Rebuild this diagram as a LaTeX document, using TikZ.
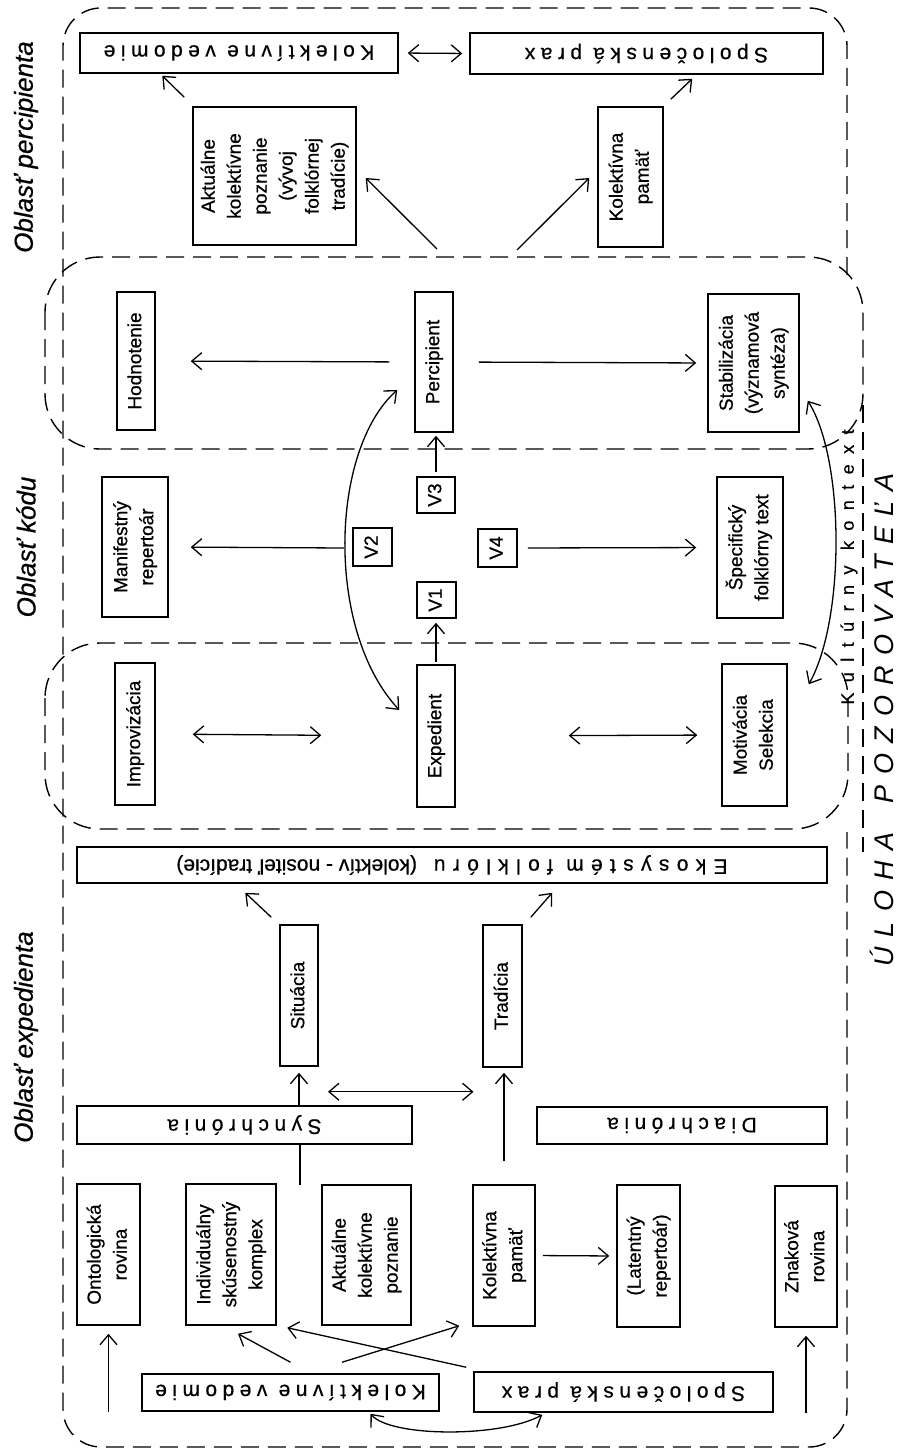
\documentclass[tikz,border=0pt]{standalone}
\usepackage{fontspec}
\setmainfont[FakeBold=0.6]{Liberation Sans}
\newfontfamily\plainfont[FakeBold=0.6]{Liberation Sans}
\newfontfamily\spacedfont[LetterSpace=26,FakeBold=0.5]{Liberation Sans}
\newfontfamily\ekofont[LetterSpace=35,FakeBold=0.5]{Liberation Sans}
\newfontfamily\kkfont[LetterSpace=58,FakeBold=0.5]{Liberation Sans}
\newfontfamily\ulohafont[LetterSpace=38]{Liberation Sans}
\usetikzlibrary{arrows.meta}
\newcommand\vtext[1]{\rotatebox{90}{\begin{tabular}{@{}c@{}}#1\end{tabular}}}
\newcommand\upside[1]{\rotatebox{180}{#1}}
\tikzset{
  box/.style={draw, fill=white, line width=1.5pt, inner sep=0pt, font=\fontsize{19}{26}\selectfont},
  hbox/.style={draw, fill=white, line width=1.5pt, inner sep=0pt, font=\fontsize{21}{26}\selectfont\spacedfont},
  arr/.style={-{Straight Barb[length=10pt,width=17pt]}, line width=1.3pt},
  arrr/.style={{Straight Barb[length=10pt,width=17pt]}-{Straight Barb[length=10pt,width=17pt]}, line width=1.3pt},
  region/.style={dash pattern=on 18pt off 9pt, line width=1.4pt},
  reglab/.style={font=\fontsize{26}{30}\selectfont\itshape, rotate=90, inner sep=0pt},
}
\begin{document}
\begin{tikzpicture}[x=1pt,y=-1pt]
\useasboundingbox (0,0) rectangle (899,1453);
% dashed regions
\draw[region, rounded corners=38pt] (847,275) -- (847,8) -- (63,8) -- (63,1447) -- (847,1447) -- (847,832);
\draw[region] (863,405) -- (863,852);
\draw[region, rounded corners=55pt] (45,257) rectangle (863,449);
\draw[region, rounded corners=55pt] (45,643) rectangle (848,829);

% top (percipient area)
\node[hbox, minimum width=318pt, minimum height=40pt] (kvT) at (239,53) {\upside{Kolektívne vedomie}};
\node[hbox, minimum width=353pt, minimum height=41pt] (spT) at (646.5,53.5) {\upside{Spoločenská prax}};
\node[box, minimum width=163pt, minimum height=138pt] (akT) at (274.5,176) {\vtext{Aktuálne\\kolektívne\\poznanie\\(vývoj\\folklórnej\\tradície)}};
\node[box, minimum width=65pt, minimum height=140pt] (kpT) at (630.5,177) {\vtext{Kolektívna\\pamäť}};

% upper inner region
\node[box, minimum width=38pt, minimum height=138pt] (hod) at (136,361) {\vtext{Hodnotenie}};
\node[box, minimum width=38pt, minimum height=140pt] (perc) at (434,362) {\vtext{Percipient}};
\node[box, minimum width=91pt, minimum height=138pt] (stab) at (753.5,363) {\vtext{Stabilizácia\\(významová\\syntéza)}};

% code area
\node[box, minimum width=66pt, minimum height=140pt] (man) at (135,547) {\vtext{Manifestný\\repertoár}};
\node[box, minimum width=39pt, minimum height=38pt] (v2) at (372.5,547) {\vtext{V2}};
\node[box, minimum width=38pt, minimum height=36pt] (v3) at (436,495) {\vtext{V3}};
\node[box, minimum width=39pt, minimum height=36pt] (v1) at (436.5,600) {\vtext{V1}};
\node[box, minimum width=39pt, minimum height=38pt] (v4) at (497.5,548) {\vtext{V4}};
\node[box, minimum width=66pt, minimum height=141pt] (spec) at (750,547.5) {\vtext{Špecifický\\folklórny text}};

% lower inner region
\node[box, minimum width=40pt, minimum height=142pt] (impr) at (135,734) {\vtext{Improvizácia}};
\node[box, minimum width=38pt, minimum height=142pt] (exp) at (436,736) {\vtext{Expedient}};
\node[box, minimum width=65pt, minimum height=142pt] (mot) at (754.5,735) {\vtext{Motivácia\\Selekcia}};

% expedient area
\node[hbox, minimum width=750pt, minimum height=36pt] (eko) at (452,865) {\upside{{\ekofont Ekosystém folklóru}\hspace{0.8em}{\plainfont(kolektív - nositeľ tradície)}}};
\node[box, minimum width=38pt, minimum height=141pt] (sit) at (299,995.5) {\vtext{Situácia}};
\node[box, minimum width=39pt, minimum height=142pt] (trad) at (502.5,996) {\vtext{Tradícia}};
\node[hbox, minimum width=335pt, minimum height=38pt] (syn) at (244.5,1125) {\upside{Synchrónia}};
\node[hbox, minimum width=290pt, minimum height=37pt] (dia) at (682,1125.5) {\upside{Diachrónia}};
\node[box, minimum width=63pt, minimum height=141pt] (ont) at (108.5,1254.5) {\vtext{Ontologická\\rovina}};
\node[box, minimum width=90pt, minimum height=141pt] (ind) at (231,1254.5) {\vtext{Individuálny\\skúsenostný\\komplex}};
\node[box, minimum width=89pt, minimum height=140pt] (akB) at (366.5,1255) {\vtext{Aktuálne\\kolektívne\\poznanie}};
\node[box, minimum width=62pt, minimum height=141pt] (kpB) at (504,1255.5) {\vtext{Kolektívna\\pamäť}};
\node[box, minimum width=63pt, minimum height=142pt] (lat) at (648.5,1256) {\vtext{(Latentný\\repertoár)}};
\node[box, minimum width=62pt, minimum height=141pt] (zn) at (806,1256.5) {\vtext{Znaková\\rovina}};
\node[hbox, minimum width=297pt, minimum height=37pt] (kvB) at (290.5,1392.5) {\upside{Kolektívne vedomie}};
\node[hbox, minimum width=299pt, minimum height=40pt] (spB) at (623.5,1392) {\upside{Spoločenská prax}};

% labels
\node[reglab] (lp) at (26,147) {Oblasť percipienta};
\node[reglab] (lk) at (26,547) {Oblasť kódu};
\node[reglab] (le) at (26,1037) {Oblasť expedienta};
\node[rotate=90, inner sep=1pt, font=\fontsize{18}{20}\selectfont\kkfont] (kk) at (849,567) {Kultúrny kontext};
\node[rotate=90, inner sep=0pt, font=\fontsize{27}{30}\selectfont\ulohafont\itshape] (ul) at (882,720) {ÚLOHA\hspace{1.1em}POZOROVATEĽA};

% connectors: top
\draw[arrr, shorten <=9pt, shorten >=7pt] (kvT.east) -- (spT.west);
\draw[arr] ([shift={(-8,-9)}]akT.north west) -- ([shift={(83,2)}]kvT.south west);
\coordinate (pl) at (437,249);
\coordinate (pr) at (517,250);
\draw[arr] (pl) -- ([shift={(9,2)}]akT.east);
\draw[arr] (pr) -- ([shift={(-8,1)}]kpT.west);
\draw[arr] ([shift={(7,-7)}]kpT.north east) -- ([shift={(223,4)}]spT.south west);

% percipient region
\draw[arr, shorten <=25pt, shorten >=35pt] (perc.west) -- (hod.east);
\draw[arr, shorten <=25pt, shorten >=11pt] (perc.east) -- (stab.west);

% code area
\draw[arrr] ([shift={(-17,28)}]perc.west) .. controls (330,450) and (325,630) .. ([shift={(-17,-26)}]exp.west);
\coordinate (v2c) at (344,548);
\draw[arr, shorten >=22pt] (v2c) -- (man.east);
\draw[arr, shorten <=2pt, shorten >=4pt] (exp.north) -- (exp.north |- v1.south);
\draw[arr, shorten <=4pt, shorten >=3pt] (v3.north) -- (v3.north |- perc.south);
\draw[arr, shorten <=10pt, shorten >=20pt] (v4.east) -- (spec.west);
\draw[arrr, shorten <=37pt, shorten >=95pt] (impr.east) -- (exp.west);
\draw[arrr, shorten <=113pt, shorten >=24pt] (exp.east) -- (mot.west);
\draw[arrr] ([shift={(8,-32)}]stab.south east) .. controls (845,460) and (845,620) .. ([shift={(21,21)}]mot.north east);

% expedient area
\draw[arr] ([shift={(-8,-7)}]sit.north west) -- ([shift={(169,9)}]eko.south west);
\draw[arr] ([shift={(8,-7)}]trad.north east) -- ([shift={(476,9)}]eko.south west);
\coordinate (synb) at (300,1185);
\draw[line width=1.3pt] (synb) -- (synb |- syn.south);
\draw[arr, shorten >=6pt] (syn.north -| sit.south) -- (sit.south);
\draw[arrr] ([shift={(29,25)}]sit.south) -- ([shift={(-29,24)}]trad.south);
\draw[arr, shorten <=23pt, shorten >=5pt] (kpB.north) -- (kpB.north |- trad.south);
\draw[arr, shorten <=7pt, shorten >=7pt] (kpB.east) -- (lat.west);
\draw[arr, shorten >=8pt] (ont.south |- kvB.south) -- (ont.south);
\draw[arr, shorten >=8pt] (zn.south |- spB.south) -- (zn.south);
\draw[arr] ([shift={(0,-11)}]kvB.north) -- ([shift={(7,8)}]ind.south);
\draw[arr] ([shift={(51.5,-11)}]kvB.north) -- ([shift={(-13,-1)}]kpB.south west);
\draw[arr] ([shift={(-7,-4)}]spB.north west) -- ([shift={(-34,2)}]akB.south west);
\draw[arrr] ([shift={(80,2)}]kvB.south) .. controls (390,1437) and (500,1438) .. ([shift={(69,2)}]spB.south west);
\end{tikzpicture}
\end{document}
